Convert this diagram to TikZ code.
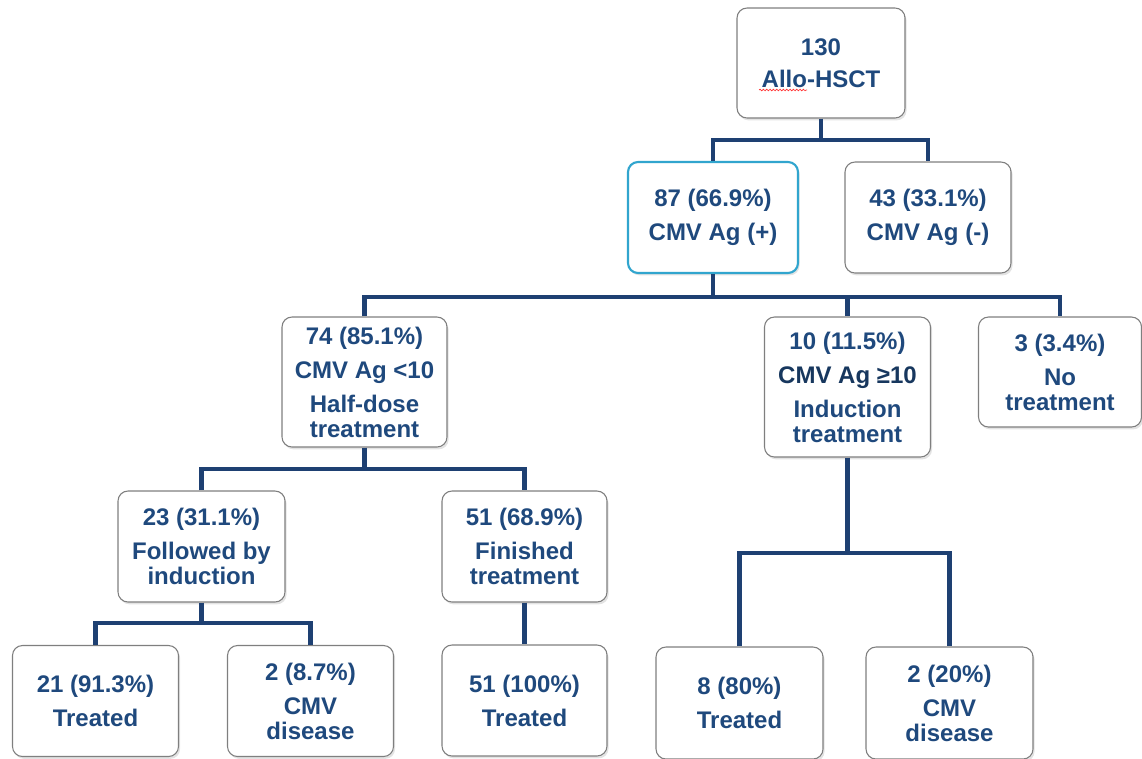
\documentclass[tikz,border=0pt]{standalone}
\usepackage{fontspec}
\setmainfont{Liberation Sans}
\usetikzlibrary{shadows}
\usetikzlibrary{decorations.pathmorphing}
\definecolor{navy}{RGB}{31,73,125}
\definecolor{navydark}{RGB}{23,55,94}
\definecolor{linknavy}{RGB}{30,64,114}
\definecolor{boxgray}{RGB}{127,127,127}
\definecolor{cyanrim}{RGB}{49,165,206}
\tikzset{
  box/.style={draw=boxgray, line width=0.8pt, fill=white, rounded corners=7.5pt,
    align=center, text=navy, inner sep=0pt,
    font=\fontsize{18}{18.75}\selectfont\bfseries,
    drop shadow={shadow xshift=1.2pt, shadow yshift=-1.8pt, opacity=0.22}},
  boxsize/.style 2 args={minimum width=#1*0.75pt, minimum height=#2*0.75pt},
  link/.style={draw=linknavy, line width=3.2pt},
}
\begin{document}
\begin{tikzpicture}[x=0.75pt, y=0.75pt]
\useasboundingbox (0,0) rectangle (1142,-758);
% boxes
\node[box, boxsize={168}{110}] (n130) at (821,-63) {130\\[5.5pt]Allo-HSCT};
\node[box, boxsize={170}{111}, draw=cyanrim, line width=1.6pt] (n87) at (713,-217.5) {87 (66.9\%)\\[6.75pt]CMV Ag (+)};
\node[box, boxsize={166}{111}] (n43) at (928,-217.5) {43 (33.1\%)\\[6.75pt]CMV Ag (-)};
\node[box, boxsize={165}{130}] (n74) at (364.5,-382) {74 (85.1\%)\\[6.75pt]CMV Ag <10\\[6.75pt]Half-dose\\treatment};
\node[box, boxsize={166}{140}] (n10) at (847.5,-387) {10 (11.5\%)\\[6.75pt]{\color{navydark}CMV Ag ≥10}\\[6.75pt]Induction\\treatment};
\node[box, boxsize={163}{110}] (n3) at (1060,-372) {3 (3.4\%)\\[6.75pt]No\\treatment};
\node[box, boxsize={167}{111}] (n23) at (201.5,-546.5) {23 (31.1\%)\\[6.75pt]Followed by\\induction};
\node[box, boxsize={165}{111}] (n51) at (524.5,-546.5) {51 (68.9\%)\\[6.75pt]Finished\\treatment};
\node[box, boxsize={166}{111}] (n21) at (95.5,-701) {21 (91.3\%)\\[6.75pt]Treated};
\node[box, boxsize={166}{111}] (n2a) at (310.5,-701) {2 (8.7\%)\\[6.75pt]CMV\\disease};
\node[box, boxsize={165}{111}] (n51b) at (524.5,-700.5) {51 (100\%)\\[6.75pt]Treated};
\node[box, boxsize={167}{112}] (n8) at (739.5,-703) {8 (80\%)\\[6.75pt]Treated};
\node[box, boxsize={167}{112}] (n2b) at (949.5,-703) {2 (20\%)\\[6.75pt]CMV\\disease};
% spell-check squiggle
\draw[red!80, line width=0.5pt, decorate, decoration={snake, amplitude=0.6pt, segment length=2.5pt}] (759,-90) -- (807,-90);
% connectors
\coordinate (j1) at (821,-140);
\draw[link] (n130.south) -- (j1);
\draw[link] (n87.north) |- (j1) -| (n43.north);
\coordinate (j2) at (713,-297);
\draw[link] (n87.south) -- (j2);
\draw[link] (n74.north) |- (j2) -| (n3.north);
\draw[link] (n10.north |- j2) -- (n10.north);
\coordinate (j3) at (364.5,-469);
\draw[link] (n74.south) -- (j3);
\draw[link] (n23.north) |- (j3) -| (n51.north);
\coordinate (j4) at (201.5,-623);
\draw[link] (n23.south) -- (j4);
\draw[link] (n21.north) |- (j4) -| (n2a.north);
\draw[link] (n51.south) -- (n51b.north);
\coordinate (j5) at (847.5,-553);
\draw[link] (n10.south) -- (j5);
\draw[link] (n8.north) |- (j5) -| (n2b.north);
\end{tikzpicture}
\end{document}
